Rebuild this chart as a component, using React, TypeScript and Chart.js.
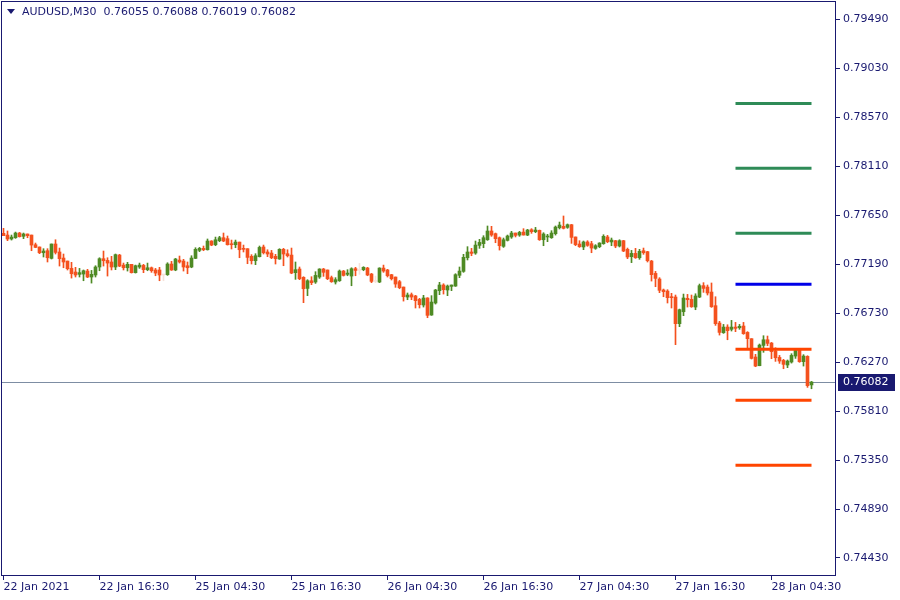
import React, { useEffect, useRef } from "react";
import { Chart, registerables } from "chart.js";

Chart.register(...registerables);

const SYMBOL = "AUDUSD,M30";
const HEADER_VALUES = ["0.76055", "0.76088", "0.76019", "0.76082"];

const OPEN = [
  0.77478, 0.77462, 0.77425, 0.77437, 0.77481, 0.77450, 0.77472, 0.77462, 0.77371, 0.77350,
  0.77296, 0.77315, 0.77243, 0.77378, 0.77303, 0.77246, 0.77218, 0.77149, 0.77115, 0.77093,
  0.77096, 0.77124, 0.77068, 0.77087, 0.77162, 0.77240, 0.77224, 0.77209, 0.77162, 0.77274,
  0.77180, 0.77155, 0.77187, 0.77109, 0.77162, 0.77177, 0.77137, 0.77155, 0.77134, 0.77134,
  0.77087, 0.77090, 0.77190, 0.77134, 0.77227, 0.77218, 0.77174, 0.77162, 0.77243, 0.77318,
  0.77337, 0.77324, 0.77406, 0.77371, 0.77409, 0.77437, 0.77428, 0.77378, 0.77371, 0.77396,
  0.77337, 0.77334, 0.77262, 0.77221, 0.77259, 0.77350, 0.77303, 0.77293, 0.77262, 0.77237,
  0.77328, 0.77287, 0.77274, 0.77109, 0.77143, 0.77065, 0.76961, 0.77033, 0.77021, 0.77068,
  0.77143, 0.77134, 0.77062, 0.77021, 0.77033, 0.77124, 0.77093, 0.77077, 0.77146, 0.77130,
  0.77137, 0.77152, 0.77096, 0.77027, 0.77021, 0.77152, 0.77134, 0.77090, 0.77068, 0.77024,
  0.76974, 0.76880, 0.76902, 0.76890, 0.76858, 0.76805, 0.76871, 0.76711, 0.76824, 0.76940,
  0.76993, 0.76946, 0.76980, 0.76983, 0.77084, 0.77121, 0.77249, 0.77303, 0.77293, 0.77365,
  0.77381, 0.77418, 0.77500, 0.77475, 0.77437, 0.77356, 0.77412, 0.77444, 0.77481, 0.77462,
  0.77490, 0.77462, 0.77512, 0.77494, 0.77506, 0.77418, 0.77444, 0.77437, 0.77475, 0.77531,
  0.77544, 0.77534, 0.77559, 0.77444, 0.77378, 0.77350, 0.77397, 0.77381, 0.77337, 0.77353,
  0.77381, 0.77444, 0.77397, 0.77409, 0.77359, 0.77409, 0.77328, 0.77259, 0.77290, 0.77249,
  0.77315, 0.77306, 0.77218, 0.77102, 0.77049, 0.76946, 0.76936, 0.76883, 0.76880, 0.76630,
  0.76742, 0.76868, 0.76858, 0.76786, 0.76880, 0.76987, 0.76974, 0.76927, 0.76799, 0.76636,
  0.76545, 0.76598, 0.76577, 0.76598, 0.76592, 0.76608, 0.76548, 0.76489, 0.76317, 0.76235,
  0.76426, 0.76479, 0.76448, 0.76373, 0.76313, 0.76285, 0.76242, 0.76270, 0.76326, 0.76379,
  0.76273, 0.76323, 0.76055,
];

const HIGH = [
  0.77525, 0.77500, 0.77462, 0.77490, 0.77487, 0.77481, 0.77472, 0.77462, 0.77387, 0.77350,
  0.77334, 0.77334, 0.77378, 0.77418, 0.77340, 0.77284, 0.77218, 0.77206, 0.77159, 0.77149,
  0.77134, 0.77140, 0.77130, 0.77174, 0.77249, 0.77312, 0.77249, 0.77262, 0.77284, 0.77281,
  0.77199, 0.77206, 0.77187, 0.77180, 0.77199, 0.77187, 0.77199, 0.77162, 0.77149, 0.77159,
  0.77087, 0.77202, 0.77215, 0.77243, 0.77265, 0.77234, 0.77209, 0.77268, 0.77343, 0.77346,
  0.77359, 0.77425, 0.77409, 0.77443, 0.77450, 0.77481, 0.77453, 0.77415, 0.77415, 0.77396,
  0.77368, 0.77334, 0.77278, 0.77287, 0.77359, 0.77368, 0.77324, 0.77318, 0.77281, 0.77334,
  0.77337, 0.77324, 0.77340, 0.77209, 0.77162, 0.77071, 0.77043, 0.77071, 0.77118, 0.77146,
  0.77149, 0.77134, 0.77077, 0.77062, 0.77134, 0.77130, 0.77137, 0.77155, 0.77159, 0.77196,
  0.77165, 0.77159, 0.77102, 0.77077, 0.77155, 0.77180, 0.77140, 0.77093, 0.77068, 0.77036,
  0.76974, 0.76918, 0.76918, 0.76896, 0.76868, 0.76896, 0.76874, 0.76893, 0.76952, 0.77018,
  0.77005, 0.76993, 0.76993, 0.77099, 0.77162, 0.77281, 0.77353, 0.77337, 0.77406, 0.77422,
  0.77456, 0.77547, 0.77544, 0.77481, 0.77444, 0.77434, 0.77462, 0.77497, 0.77481, 0.77497,
  0.77522, 0.77516, 0.77522, 0.77534, 0.77509, 0.77484, 0.77469, 0.77503, 0.77547, 0.77584,
  0.77641, 0.77566, 0.77562, 0.77444, 0.77409, 0.77406, 0.77409, 0.77403, 0.77372, 0.77390,
  0.77465, 0.77459, 0.77434, 0.77412, 0.77418, 0.77412, 0.77340, 0.77318, 0.77337, 0.77328,
  0.77340, 0.77309, 0.77224, 0.77121, 0.77062, 0.76955, 0.76949, 0.76915, 0.76899, 0.76767,
  0.76908, 0.76905, 0.76899, 0.76911, 0.77002, 0.77015, 0.76993, 0.77012, 0.76883, 0.76652,
  0.76623, 0.76620, 0.76661, 0.76642, 0.76623, 0.76642, 0.76555, 0.76489, 0.76342, 0.76439,
  0.76517, 0.76514, 0.76454, 0.76404, 0.76332, 0.76295, 0.76289, 0.76348, 0.76392, 0.76389,
  0.76339, 0.76329, 0.76088,
];

const LOW = [
  0.77456, 0.77409, 0.77415, 0.77431, 0.77443, 0.77428, 0.77437, 0.77315, 0.77343, 0.77287,
  0.77256, 0.77209, 0.77237, 0.77284, 0.77171, 0.77155, 0.77134, 0.77058, 0.77068, 0.77068,
  0.77033, 0.77062, 0.77011, 0.77068, 0.77127, 0.77171, 0.77077, 0.77134, 0.77137, 0.77165,
  0.77134, 0.77124, 0.77105, 0.77105, 0.77149, 0.77109, 0.77127, 0.77112, 0.77080, 0.77033,
  0.77033, 0.77083, 0.77130, 0.77127, 0.77199, 0.77124, 0.77099, 0.77155, 0.77240, 0.77306,
  0.77315, 0.77321, 0.77362, 0.77362, 0.77400, 0.77400, 0.77368, 0.77331, 0.77343, 0.77249,
  0.77303, 0.77193, 0.77190, 0.77184, 0.77256, 0.77284, 0.77259, 0.77240, 0.77190, 0.77234,
  0.77174, 0.77256, 0.77099, 0.77046, 0.77043, 0.76827, 0.76893, 0.76996, 0.77008, 0.77055,
  0.77074, 0.77043, 0.77018, 0.77002, 0.77027, 0.77077, 0.77080, 0.76986, 0.77080, 0.77093,
  0.77127, 0.77080, 0.77015, 0.77015, 0.77015, 0.77112, 0.77068, 0.77040, 0.76971, 0.76958,
  0.76842, 0.76855, 0.76855, 0.76777, 0.76777, 0.76786, 0.76686, 0.76708, 0.76814, 0.76902,
  0.76908, 0.76893, 0.76940, 0.76980, 0.77062, 0.77112, 0.77228, 0.77268, 0.77281, 0.77337,
  0.77343, 0.77412, 0.77450, 0.77390, 0.77321, 0.77346, 0.77406, 0.77431, 0.77444, 0.77450,
  0.77462, 0.77456, 0.77478, 0.77484, 0.77412, 0.77362, 0.77400, 0.77431, 0.77462, 0.77519,
  0.77519, 0.77525, 0.77384, 0.77362, 0.77346, 0.77325, 0.77356, 0.77296, 0.77328, 0.77343,
  0.77375, 0.77390, 0.77362, 0.77343, 0.77350, 0.77306, 0.77240, 0.77203, 0.77243, 0.77234,
  0.77281, 0.77209, 0.77030, 0.76977, 0.76921, 0.76883, 0.76824, 0.76777, 0.76433, 0.76602,
  0.76705, 0.76786, 0.76783, 0.76761, 0.76874, 0.76924, 0.76899, 0.76783, 0.76614, 0.76523,
  0.76539, 0.76479, 0.76561, 0.76555, 0.76577, 0.76530, 0.76398, 0.76298, 0.76226, 0.76235,
  0.76361, 0.76423, 0.76301, 0.76276, 0.76257, 0.76207, 0.76217, 0.76260, 0.76304, 0.76267,
  0.76232, 0.76032, 0.76019,
];

const CLOSE = [
  0.77456, 0.77425, 0.77443, 0.77481, 0.77447, 0.77472, 0.77456, 0.77368, 0.77346, 0.77296,
  0.77312, 0.77249, 0.77378, 0.77299, 0.77240, 0.77209, 0.77146, 0.77099, 0.77087, 0.77109,
  0.77127, 0.77068, 0.77093, 0.77162, 0.77240, 0.77221, 0.77199, 0.77162, 0.77278, 0.77171,
  0.77155, 0.77187, 0.77109, 0.77174, 0.77180, 0.77137, 0.77155, 0.77127, 0.77105, 0.77087,
  0.77087, 0.77190, 0.77134, 0.77237, 0.77209, 0.77162, 0.77155, 0.77246, 0.77328, 0.77337,
  0.77324, 0.77406, 0.77368, 0.77418, 0.77437, 0.77406, 0.77371, 0.77371, 0.77396, 0.77324,
  0.77328, 0.77252, 0.77221, 0.77268, 0.77346, 0.77296, 0.77284, 0.77249, 0.77240, 0.77328,
  0.77284, 0.77268, 0.77105, 0.77137, 0.77052, 0.76958, 0.77033, 0.77015, 0.77083, 0.77143,
  0.77112, 0.77052, 0.77024, 0.77043, 0.77124, 0.77083, 0.77105, 0.77146, 0.77130, 0.77130,
  0.77159, 0.77087, 0.77027, 0.77027, 0.77152, 0.77124, 0.77080, 0.77052, 0.77002, 0.76968,
  0.76883, 0.76899, 0.76880, 0.76846, 0.76808, 0.76871, 0.76708, 0.76833, 0.76946, 0.76993,
  0.76949, 0.76983, 0.76993, 0.77090, 0.77124, 0.77253, 0.77303, 0.77290, 0.77368, 0.77393,
  0.77437, 0.77500, 0.77462, 0.77428, 0.77362, 0.77418, 0.77453, 0.77481, 0.77459, 0.77487,
  0.77462, 0.77509, 0.77494, 0.77509, 0.77418, 0.77472, 0.77450, 0.77481, 0.77537, 0.77556,
  0.77525, 0.77559, 0.77440, 0.77372, 0.77353, 0.77397, 0.77365, 0.77340, 0.77362, 0.77387,
  0.77450, 0.77400, 0.77415, 0.77359, 0.77409, 0.77312, 0.77256, 0.77290, 0.77249, 0.77309,
  0.77296, 0.77221, 0.77090, 0.77055, 0.76943, 0.76930, 0.76874, 0.76874, 0.76630, 0.76761,
  0.76871, 0.76855, 0.76789, 0.76890, 0.76987, 0.76961, 0.76918, 0.76789, 0.76630, 0.76548,
  0.76598, 0.76564, 0.76598, 0.76586, 0.76605, 0.76536, 0.76489, 0.76304, 0.76232, 0.76429,
  0.76479, 0.76445, 0.76367, 0.76310, 0.76279, 0.76248, 0.76279, 0.76332, 0.76379, 0.76273,
  0.76326, 0.76048, 0.76082,
];

const FAINT_BARS = [40, 89, 93];

const Y_TICKS = [0.7949, 0.7903, 0.7857, 0.7811, 0.7765, 0.7719, 0.7673, 0.7627, 0.7581, 0.7535, 0.7489, 0.7443];
const X_TICK_BARS = [0, 24, 48, 72, 96, 120, 144, 168, 192];
const X_TICK_LABELS = [
  "22 Jan 2021", "22 Jan 16:30", "25 Jan 04:30", "25 Jan 16:30", "26 Jan 04:30",
  "26 Jan 16:30", "27 Jan 04:30", "27 Jan 16:30", "28 Jan 04:30",
];

const GREEN_LEVELS = [0.78698, 0.78088, 0.77478];
const BLUE_LEVELS = [0.76999];
const ORANGE_LEVELS = [0.76389, 0.7591, 0.753];
const LEVEL_FROM_BAR = 183;
const LEVEL_TO_BAR = 202;
const CURRENT_PRICE = 0.76082;

// layout / style
const X_MIN = -0.375;
const X_MAX = 208.125;
const Y_MIN = 0.74261;
const Y_MAX = 0.7965;
const NAVY = "#191970";
const BULL = "#4e8a24";
const BEAR = "#f4511e";
const FAINT = "#f6e2da";
const FONT = "'DejaVu Sans', sans-serif";

export default function App() {
  const ref = useRef<HTMLCanvasElement | null>(null);

  useEffect(() => {
    if (!ref.current) return;
    const idx = OPEN.map((_, i) => i);
    const colors = idx.map((i) =>
      FAINT_BARS.includes(i) ? FAINT : CLOSE[i] >= OPEN[i] ? BULL : BEAR
    );

    const levelDs = (vals: number[], color: string) =>
      vals.map((v) => ({
        type: "line" as const,
        data: [
          { x: LEVEL_FROM_BAR, y: v },
          { x: LEVEL_TO_BAR, y: v },
        ],
        borderColor: color,
        borderWidth: 3,
        pointRadius: 0,
        order: 0,
      }));

    const overlay = {
      id: "mt4overlay",
      beforeDatasetsDraw(chart: any) {
        const { ctx, chartArea, scales } = chart;
        const y = Math.round(scales.y.getPixelForValue(CURRENT_PRICE)) + 0.5;
        ctx.save();
        ctx.strokeStyle = "#7d8da3";
        ctx.lineWidth = 1;
        ctx.beginPath();
        ctx.moveTo(chartArea.left, y);
        ctx.lineTo(chartArea.right, y);
        ctx.stroke();
        ctx.restore();
      },
      afterDraw(chart: any) {
        const { ctx, chartArea, scales } = chart;
        ctx.save();
        ctx.strokeStyle = NAVY;
        ctx.lineWidth = 1;
        ctx.strokeRect(
          chartArea.left - 0.5,
          chartArea.top - 0.5,
          chartArea.right - chartArea.left,
          chartArea.bottom - chartArea.top
        );
        ctx.fillStyle = NAVY;
        ctx.beginPath();
        ctx.moveTo(7, 9);
        ctx.lineTo(15, 9);
        ctx.lineTo(11, 14);
        ctx.closePath();
        ctx.fill();
        ctx.font = "11px " + FONT;
        ctx.textBaseline = "middle";
        ctx.textAlign = "left";
        ctx.fillText(SYMBOL + "  " + HEADER_VALUES.join(" "), 22, 12);
        const y = Math.round(scales.y.getPixelForValue(CURRENT_PRICE));
        ctx.fillStyle = NAVY;
        ctx.fillRect(chartArea.right + 2, y - 8, 57, 17);
        ctx.fillStyle = "#ffffff";
        ctx.fillText(CURRENT_PRICE.toFixed(5), chartArea.right + 7, y + 0.5);
        ctx.restore();
      },
    };

    const chart = new Chart(ref.current, {
      type: "bar",
      data: {
        datasets: [
          ...levelDs(GREEN_LEVELS, "#2e8b57"),
          ...levelDs(BLUE_LEVELS, "#0000e8"),
          ...levelDs(ORANGE_LEVELS, "#ff4500"),
          {
            type: "bar",
            data: idx.map((i) => ({ x: i, y: [OPEN[i], CLOSE[i]] })),
            backgroundColor: colors,
            barThickness: 3,
            minBarLength: 1,
            grouped: false,
            borderWidth: 0,
            order: 1,
          },
          {
            type: "bar",
            data: idx.map((i) => ({ x: i, y: [LOW[i], HIGH[i]] })),
            backgroundColor: colors,
            barThickness: 1,
            grouped: false,
            borderWidth: 0,
            order: 2,
          },
        ] as any,
      },
      options: {
        responsive: false,
        animation: false,
        devicePixelRatio: 1,
        layout: { padding: { left: 2, top: 2, right: 0, bottom: 0 } },
        plugins: { legend: { display: false }, tooltip: { enabled: false } },
        scales: {
          x: {
            type: "linear",
            offset: false,
            min: X_MIN,
            max: X_MAX,
            afterBuildTicks: (s: any) => {
              s.ticks = X_TICK_BARS.map((v) => ({ value: v }));
            },
            afterFit: (s: any) => {
              s.height = 24;
              s.paddingLeft = 0;
              s.paddingRight = 0;
            },
            ticks: {
              autoSkip: false,
              maxRotation: 0,
              minRotation: 0,
              align: "start",
              padding: 1,
              color: NAVY,
              font: { family: FONT, size: 11 },
              callback: (v: any) => {
                const k = X_TICK_BARS.indexOf(Number(v));
                return k >= 0 ? X_TICK_LABELS[k] : "";
              },
            },
            grid: { offset: false, drawOnChartArea: false, drawTicks: true, tickLength: 4, color: NAVY },
            border: { display: false },
          },
          y: {
            type: "linear",
            position: "right",
            min: Y_MIN,
            max: Y_MAX,
            afterBuildTicks: (s: any) => {
              s.ticks = Y_TICKS.map((v) => ({ value: v }));
            },
            afterFit: (s: any) => {
              s.width = 64;
              s.paddingTop = 0;
              s.paddingBottom = 0;
            },
            ticks: {
              autoSkip: false,
              padding: 3,
              color: NAVY,
              font: { family: FONT, size: 11 },
              callback: (v: any) => Number(v).toFixed(5),
            },
            grid: { drawOnChartArea: false, drawTicks: true, tickLength: 4, color: NAVY },
            border: { display: false },
          },
        },
      } as any,
      plugins: [overlay],
    });
    return () => chart.destroy();
  }, []);

  return (
    <div style={{ position: "fixed", left: 0, top: 0, width: 900, height: 600, background: "#ffffff" }}>
      <canvas ref={ref} width={900} height={600} style={{ display: "block" }} />
    </div>
  );
}
